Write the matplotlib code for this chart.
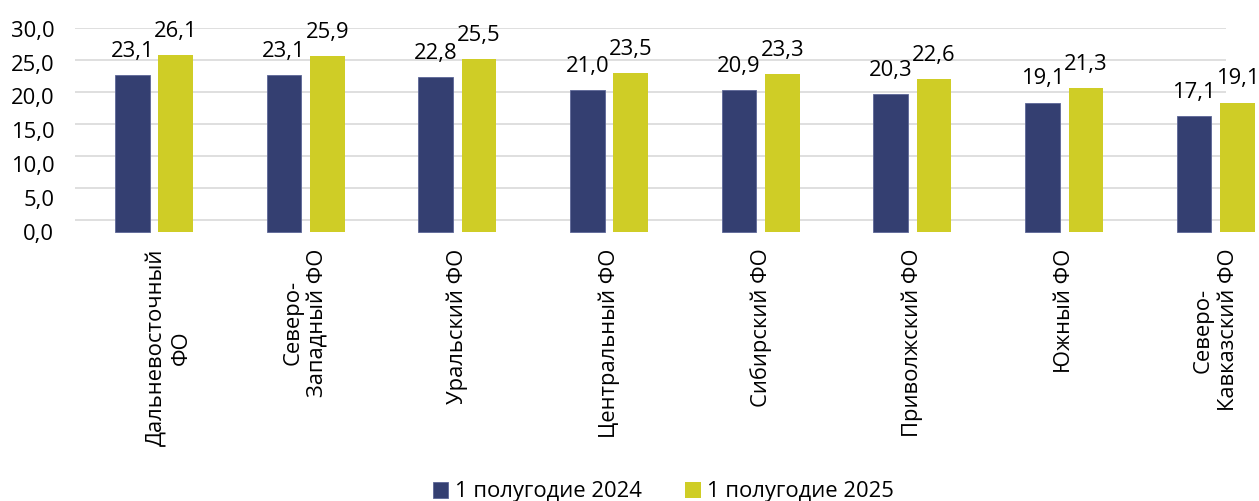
import matplotlib
matplotlib.use("Agg")
import matplotlib.pyplot as plt
import numpy as np

categories = ["Дальневосточный\nФО", "Северо-\nЗападный ФО", "Уральский ФО",
              "Центральный ФО", "Сибирский ФО", "Приволжский ФО", "Южный ФО",
              "Северо-\nКавказский ФО"]
series_names = ["1 полугодие 2024", "1 полугодие 2025"]
values_2024 = [23.1, 23.1, 22.8, 21.0, 20.9, 20.3, 19.1, 17.1]
values_2025 = [26.1, 25.9, 25.5, 23.5, 23.3, 22.6, 21.3, 19.1]
yticks = [0, 5, 10, 15, 20, 25, 30]

NAVY = "#343F71"
YELLOW = "#CFCD26"
FONT = "Open Sans"
FS = 15.8

plt.rcParams['font.family'] = [FONT, 'DejaVu Sans']

W, H = 1259, 501
fig = plt.figure(figsize=(W / 100, H / 100), dpi=100)

left_px, right_px = 75, 1226
bottom_px, top_px = 232, 28
pos = [left_px / W, 1 - bottom_px / H, (right_px - left_px) / W, (bottom_px - top_px) / H]

# background axes for gridlines
gax = fig.add_axes(pos, zorder=0)
gax.set_ylim(-1.872, 29.95)
gax.set_xlim(0, 1)
for v in yticks:
    gax.axhline(v, color="#d9d9d9", lw=1.2)
gax.axis("off")

ax = fig.add_axes(pos, zorder=1)
ax.patch.set_alpha(0)
x = np.arange(len(categories))
ax.set_xlim(-0.521, 7.067)
ax.set_ylim(0, 30.09)

bw = 0.228
off = 0.143
b1 = ax.bar(x - off, values_2024, bw, color=NAVY, edgecolor="#5d6797", linewidth=0.6,
            clip_on=False, label=series_names[0])
b2 = ax.bar(x + off, values_2025, bw, color=YELLOW, linewidth=0,
            clip_on=False, label=series_names[1])

def fmt(v):
    return f"{v:.1f}".replace(".", ",")

for bars, vals in ((b1, values_2024), (b2, values_2025)):
    for r, v in zip(bars, vals):
        ax.annotate(fmt(v), (r.get_x() + r.get_width() / 2, v), xytext=(0, 13),
                    textcoords="offset points", ha="center", va="baseline",
                    fontsize=FS, annotation_clip=False)

ax.set_yticks(yticks)
ax.set_yticklabels([fmt(v) for v in yticks], fontsize=FS)
ax.set_xticks(x)
ax.set_xticklabels([])
ax.tick_params(axis="both", length=0)
ax.tick_params(axis="y", pad=15)

# category labels (first one sits slightly right in the reference)
dx_pts = [11, 0, 0, 0, 0, 0, 0, 0]
for xi, lab, dx in zip(x, categories, dx_pts):
    ax.annotate(lab, (xi, 0), xycoords=("data", "axes fraction"),
                xytext=(dx, -12), textcoords="offset points",
                rotation=90, ha="center", va="top", multialignment="center",
                linespacing=1.25, fontsize=FS, annotation_clip=False)

for s in ax.spines.values():
    s.set_visible(False)

leg = fig.legend(handles=[b1, b2], labels=series_names, loc="center",
                 bbox_to_anchor=(0.527, 1 - 492 / H), ncol=2, frameon=False,
                 fontsize=FS, handlelength=0.7, handleheight=0.7,
                 handletextpad=0.3, columnspacing=2.0)

fig.savefig("out.png", dpi=100)
